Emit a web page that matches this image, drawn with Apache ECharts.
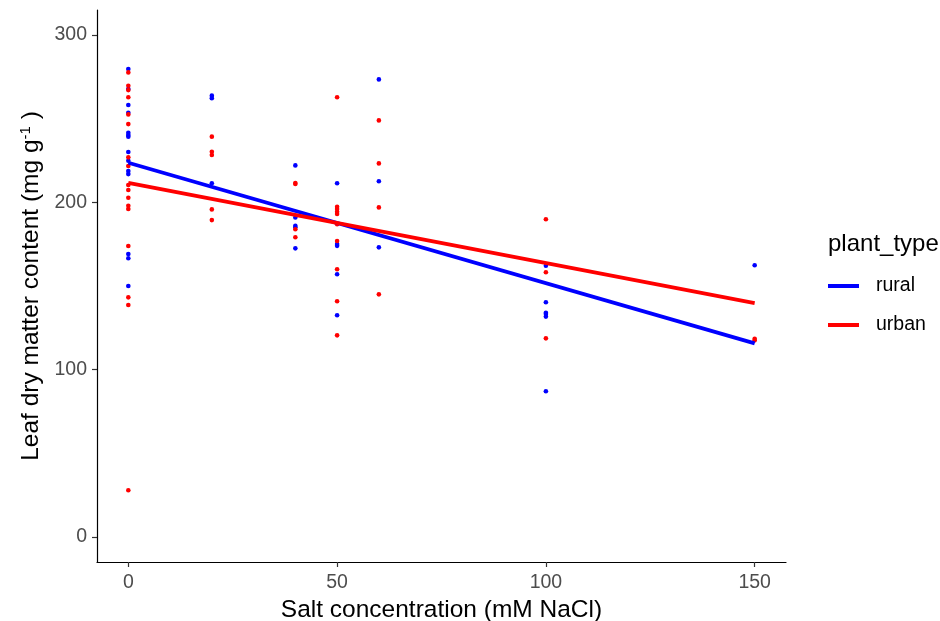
<!DOCTYPE html>
<html>
<head>
<meta charset="utf-8">
<script src="https://cdn.jsdelivr.net/npm/echarts@6/dist/echarts.min.js"></script>
<style>
  html, body { margin: 0; padding: 0; background: #fff; }
  #chart { width: 940px; height: 621px; }
</style>
</head>
<body>
<div id="chart"></div>
<script>
const FONT = "Liberation Sans, Arial, sans-serif";

// salt concentration (mM NaCl) and leaf dry matter content (mg g-1)
const ruralSalt = [0,0,0,0,0,0,0,0,0,0,0,0,0,0, 20,20,20, 40,40,40,40,40, 50,50,50,50,50, 60,60,60, 100,100,100,100,100,100, 150];
const ruralLdmc = [279.7,267.7,258.2,253.6,241.6,240.3,239.3,230.1,224.9,218.7,216.9,169.1,166.6,150,
  263.8,262.3,211.4,
  222.1,191,186,185.1,172.5,
  211.4,175.1,174,157,132.5,
  273.5,212.6,173.1,
  162.1,140.3,134,133.3,131.7,87.1,
  162.4];

const urbanSalt = [0,0,0,0,0,0,0,0,0,0,0,0,0,0,0,0,0, 20,20,20,20,20, 40,40,40,40, 50,50,50,50,50,50,50,50,50,50, 60,60,60,60, 100,100,100, 150,150];
const urbanLdmc = [277.7,269.7,267.1,262.8,252.6,246.8,226.9,221.7,210.4,207.4,202.8,198,196,173.9,143.2,138.6,27.9,
  239.3,230.3,228.3,195.8,189.4,
  211.6,211,183.9,179.1,
  262.8,197.4,196,194.4,193,186.9,176.9,160,140.9,120.5,
  249,223.3,197,145,
  189.9,158.2,118.7,
  118.5,117.5];

// fitted lm lines, end points
const fitSalt = [0, 150];
const ruralFit = [223.7, 115.7];
const urbanFit = [211.7, 139.7];

const xTicks = [0, 50, 100, 150];
const yTicks = [0, 100, 200, 300];

const pairs = (xs, ys) => xs.map((x, i) => [x, ys[i]]);

const BLUE = "#0000FF";
const RED = "#FF0000";

const chart = echarts.init(document.getElementById("chart"));

chart.setOption({
  animation: false,
  backgroundColor: "#fff",
  textStyle: { fontFamily: FONT },
  grid: { left: 97, right: 154, top: 10, bottom: 59, containLabel: false, outerBoundsMode: "none" },
  title: {
    text: "plant_type",
    left: 823,
    top: 227,
    textStyle: { fontFamily: FONT, fontSize: 24, fontWeight: "normal", color: "#000" },
  },
  legend: {
    orient: "vertical",
    left: 823,
    top: 271,
    itemWidth: 31,
    itemHeight: 4,
    itemGap: 19,
    selectedMode: false,
    data: [
      { name: "rural", icon: "rect" },
      { name: "urban", icon: "rect" },
    ],
    textStyle: { fontFamily: FONT, fontSize: 19.5, color: "#000", padding: [0, 0, 0, 12], lineHeight: 20 },
  },
  xAxis: {
    type: "value",
    min: -7.5,
    max: 157.5,
    name: "Salt concentration (mM NaCl)",
    nameLocation: "middle",
    nameGap: 35,
    nameTextStyle: { fontFamily: FONT, fontSize: 24.5, color: "#000" },
    splitLine: { show: false },
    axisLine: { onZero: false, lineStyle: { color: "#000", width: 1.2 } },
    axisTick: { customValues: xTicks, length: 5, lineStyle: { color: "#333", width: 1.2 } },
    axisLabel: { customValues: xTicks, margin: 11, fontSize: 19.5, color: "#4D4D4D", fontFamily: FONT },
  },
  yAxis: {
    type: "value",
    min: -15,
    max: 315,
    name: "Leaf dry matter content (mg g{sup|-1} )",
    nameLocation: "middle",
    nameGap: 50,
    nameTextStyle: {
      fontFamily: FONT, fontSize: 24.5, color: "#000",
      rich: { sup: { fontFamily: FONT, fontSize: 15, color: "#000", verticalAlign: "top", padding: [0, 0, 10, 0] } },
    },
    splitLine: { show: false },
    axisLine: { onZero: false, lineStyle: { color: "#000", width: 1.2 } },
    axisTick: { customValues: yTicks, length: 5, lineStyle: { color: "#333", width: 1.2 } },
    axisLabel: { customValues: yTicks, margin: 10, fontSize: 19.5, color: "#4D4D4D", fontFamily: FONT },
  },
  series: [
    {
      name: "rural points",
      type: "scatter",
      symbolSize: 4.6,
      itemStyle: { color: BLUE, opacity: 1 },
      data: pairs(ruralSalt, ruralLdmc),
      z: 2,
    },
    {
      name: "urban points",
      type: "scatter",
      symbolSize: 4.6,
      itemStyle: { color: RED, opacity: 1 },
      data: pairs(urbanSalt, urbanLdmc),
      z: 2,
    },
    {
      name: "rural",
      type: "line",
      showSymbol: false,
      lineStyle: { color: BLUE, width: 3.8 },
      itemStyle: { color: BLUE },
      data: pairs(fitSalt, ruralFit),
      z: 3,
    },
    {
      name: "urban",
      type: "line",
      showSymbol: false,
      lineStyle: { color: RED, width: 3.8 },
      itemStyle: { color: RED },
      data: pairs(fitSalt, urbanFit),
      z: 4,
    },
  ],
});
</script>
</body>
</html>
